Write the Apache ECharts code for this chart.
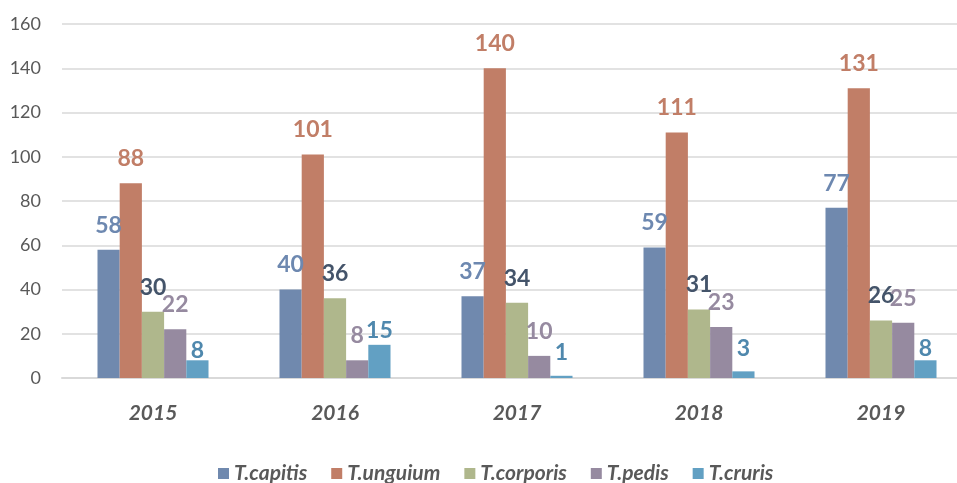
<!DOCTYPE html>
<html lang="en" style="height: 100%">
  <head>
    <meta charset="utf-8" />
  </head>
  <body style="height: 100%; margin: 0; background: #fff">
    <div id="container" style="width: 957px; height: 483px"></div>

    <script
      type="text/javascript"
      src="https://cdn.jsdelivr.net/npm/echarts@6/dist/echarts.min.js"
    ></script>

    <script type="text/javascript">
      var years = ["2015", "2016", "2017", "2018", "2019"];
      var seriesNames = ["T.capitis", "T.unguium", "T.corporis", "T.pedis", "T.cruris"];
      var capitis = [58, 40, 37, 59, 77];
      var unguium = [88, 101, 140, 111, 131];
      var corporis = [30, 36, 34, 31, 26];
      var pedis = [22, 8, 10, 23, 25];
      var cruris = [8, 15, 1, 3, 8];

      var barColors = ["#7089ae", "#c17e67", "#afb78c", "#968aa0", "#62a0c3"];
      var labelColors = ["#6d88b0", "#c17e67", "#44546a", "#968aa0", "#4f88ad"];
      // the small cruris labels sit closer to their bars in the original
      var crurisLabelGap = [-2, 3, 12, 11, 0];
      var fontFamily = "Lato, 'Noto Sans', sans-serif";

      var dom = document.getElementById("container");
      var myChart = echarts.init(dom, null, { renderer: "canvas" });

      var allData = [capitis, unguium, corporis, pedis, cruris];
      var series = allData.map(function (d, i) {
        var items = d.map(function (v, j) {
          if (i === 4) return { value: v, label: { distance: crurisLabelGap[j] } };
          return v;
        });
        return {
          name: seriesNames[i],
          type: "bar",
          data: items,
          barGap: "0%",
          barCategoryGap: "39%",
          itemStyle: { color: barColors[i] },
          label: {
            show: true,
            position: "top",
            distance: 13,
            color: labelColors[i],
            fontSize: 23,
            fontWeight: "bold",
            fontFamily: fontFamily,
          },
        };
      });

      var option = {
        animation: false,
        textStyle: { fontFamily: fontFamily },
        grid: {
          left: 62,
          width: 910,
          top: 24,
          bottom: 105,
          outerBoundsMode: "none",
        },
        legend: {
          data: seriesNames,
          left: 213,
          top: 458,
          itemWidth: 11,
          itemHeight: 11,
          itemGap: 24,
          icon: "rect",
          textStyle: {
            fontSize: 21,
            fontStyle: "italic",
            fontWeight: "bold",
            color: "#595959",
            fontFamily: fontFamily,
          },
        },
        xAxis: {
          type: "category",
          data: years,
          axisTick: { show: false },
          axisLine: { lineStyle: { color: "#d9d9d9", width: 2 } },
          axisLabel: {
            margin: 25,
            fontSize: 21,
            fontStyle: "italic",
            fontWeight: "bold",
            color: "#595959",
          },
        },
        yAxis: {
          type: "value",
          min: 0,
          max: 160,
          interval: 20,
          axisLine: { show: false },
          axisTick: { show: false },
          splitLine: { lineStyle: { color: "#d9d9d9", width: 1.5 } },
          axisLabel: { margin: 21, fontSize: 18, color: "#595959" },
        },
        series: series,
      };

      myChart.setOption(option);
    </script>
  </body>
</html>
